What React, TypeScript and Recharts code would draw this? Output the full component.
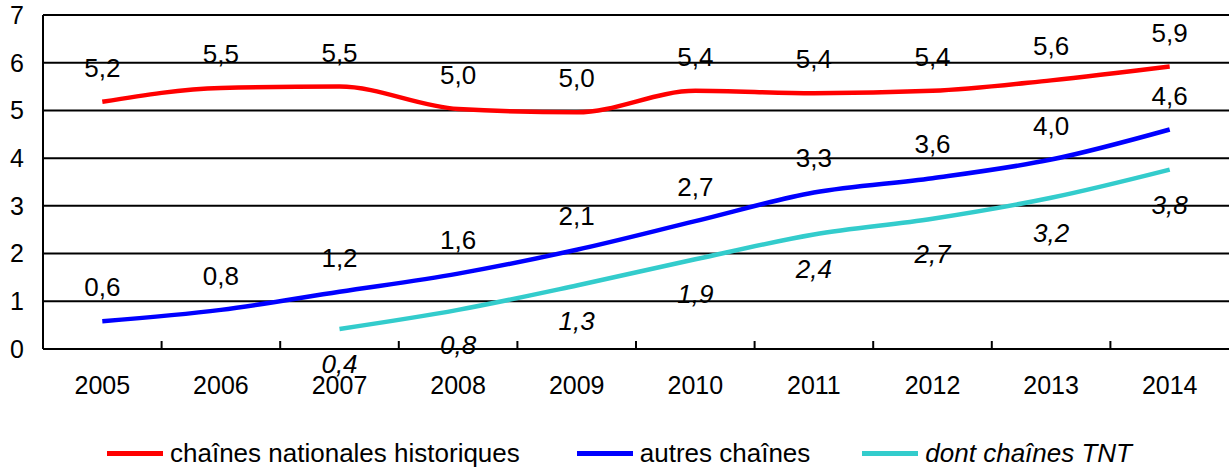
import { CartesianGrid, LabelList, Legend, Line, LineChart, XAxis, YAxis } from "recharts";

const years = ["2005", "2006", "2007", "2008", "2009", "2010", "2011", "2012", "2013", "2014"];
const nationales = [5.18, 5.47, 5.5, 5.03, 4.96, 5.41, 5.36, 5.41, 5.63, 5.92];
const autres = [0.58, 0.82, 1.2, 1.58, 2.08, 2.68, 3.28, 3.58, 3.97, 4.6];
const tnt = [null, null, 0.42, 0.82, 1.33, 1.88, 2.4, 2.73, 3.17, 3.76];
const yTicks = [0, 1, 2, 3, 4, 5, 6, 7];

const series = [
  { key: "nationales", name: "chaînes nationales historiques", color: "#ff0000", italic: false },
  { key: "autres", name: "autres chaînes", color: "#0000ff", italic: false },
  { key: "tnt", name: "dont chaînes TNT", color: "#33cccc", italic: true },
];

const data = years.map((year, i) => ({
  year,
  nationales: nationales[i],
  autres: autres[i],
  tnt: tnt[i],
}));

const FONT = '"Liberation Sans", Arial, sans-serif';
const W = 1229;
const H = 468;
const HALF_BAND = 59.3;

const fmt = (v: number) => v.toFixed(1).replace(".", ",");

const makeLabel = (dy: number, italic: boolean) => (props: any) => {
  const { x, y, value } = props;
  if (value == null || x == null || y == null) return null;
  return (
    <text
      x={x}
      y={y + dy}
      textAnchor="middle"
      dominantBaseline="central"
      fontSize={26}
      fontStyle={italic ? "italic" : "normal"}
      fontFamily={FONT}
      fill="#000"
    >
      {fmt(Number(value))}
    </text>
  );
};

const XTick = (props: any) => {
  const { x, y, payload, index } = props;
  return (
    <g>
      {index > 0 && (
        <line x1={x - HALF_BAND} x2={x - HALF_BAND} y1={y - 27} y2={y - 35} stroke="#000" strokeWidth={2} />
      )}
      <text x={x} y={y} dy={18} textAnchor="middle" fontSize={25} fontFamily={FONT} fill="#000">
        {payload.value}
      </text>
    </g>
  );
};

const renderLegend = () => (
  <div
    style={{
      display: "flex",
      alignItems: "center",
      height: 30,
      paddingLeft: 107,
      fontFamily: FONT,
      fontSize: 26,
      color: "#000",
    }}
  >
    {series.map((s, i) => (
      <div key={s.key} style={{ display: "flex", alignItems: "center", marginRight: i === 0 ? 57 : 52 }}>
        <div style={{ width: 56, height: 5, background: s.color, marginRight: 7 }} />
        <span style={{ fontStyle: s.italic ? "italic" : "normal", whiteSpace: "nowrap" }}>{s.name}</span>
      </div>
    ))}
  </div>
);

export default function App() {
  return (
    <div style={{ position: "absolute", left: 0, top: 0, width: W, height: H, background: "#fff" }}>
      <LineChart width={W} height={H} data={data} margin={{ top: 15, right: 0, bottom: 0, left: 0 }}>
        <CartesianGrid vertical={false} stroke="#000" strokeWidth={2} />
        <XAxis
          dataKey="year"
          padding={{ left: HALF_BAND, right: HALF_BAND }}
          axisLine={{ stroke: "#000", strokeWidth: 2 }}
          tickLine={false}
          tickSize={0}
          tickMargin={27}
          height={89}
          interval={0}
          tick={<XTick />}
        />
        <YAxis
          domain={[0, 7]}
          ticks={yTicks}
          width={43}
          axisLine={{ stroke: "#000", strokeWidth: 2 }}
          tickLine={false}
          tickSize={0}
          tickMargin={19}
          tick={{ fill: "#000", fontSize: 25, fontFamily: FONT }}
        />
        <Legend verticalAlign="bottom" content={renderLegend} wrapperStyle={{ left: 0, width: W, height: 30 }} />
        {series.map((s) => (
          <Line
            key={s.key}
            dataKey={s.key}
            name={s.name}
            type="monotone"
            stroke={s.color}
            strokeWidth={4.5}
            dot={false}
            activeDot={false}
            connectNulls={false}
            isAnimationActive={false}
          >
            <LabelList dataKey={s.key} content={makeLabel(s.key === "tnt" ? 35 : -34, s.italic)} />
          </Line>
        ))}
      </LineChart>
    </div>
  );
}
